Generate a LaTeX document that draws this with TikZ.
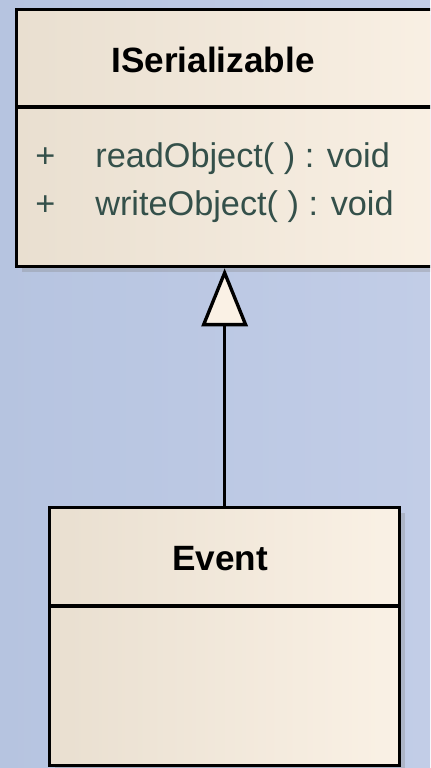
\documentclass[tikz,border=0pt]{standalone}
\usepackage{fontspec}
\setmainfont{Liberation Sans}
\usetikzlibrary{arrows.meta,shadows,positioning}

\definecolor{bgleft}{HTML}{B6C4E0}
\definecolor{bgright}{HTML}{C2CDE7}
\definecolor{boxleft}{HTML}{E9DFD0}
\definecolor{boxright}{HTML}{FAF1E5}
\definecolor{membertext}{HTML}{34504A}

\tikzset{
	classbox/.style={draw=black, line width=1.9pt, left color=boxleft, right color=boxright, inner sep=0pt,
		drop shadow={shadow xshift=3pt, shadow yshift=-3pt, opacity=0.3}},
	classname/.style={font=\fontsize{20}{24}\selectfont\bfseries},
	member/.style={font=\fontsize{19.5}{23}\selectfont, text=membertext, anchor=base west, inner sep=0pt},
	inherit/.style={line width=1.9pt, -{Triangle[width=0.92cm, length=1.16cm, fill=boxright]}}
}

\begin{document}
\begin{tikzpicture}[x=0.02cm, y=-0.02cm]
		\clip (0,0) rectangle (430,768);
		\shade[left color=bgleft, right color=bgright] (0,0) rectangle (430,768);
		
		% interface
		\node[classbox, minimum width=9cm, minimum height=5.14cm, anchor=north west] (iser) at (15,8) {};
		\coordinate (isep) at (15,107);
		\draw[line width=1.9pt] (isep) -- (isep -| iser.east);
		\node[classname] (isername) at (213,60) {ISerializable};
		\node[member] (plus1) at (35,167) {+};
		\node[member] (read) at (95,167) {readObject( ) : void};
		\node[member] (plus2) at (35,215) {+};
		\node[member] (write) at (95,215) {writeObject( ) : void};
		
		% class
		\node[classbox, minimum width=7cm, minimum height=5.16cm, anchor=north west] (event) at (48,506) {};
		\coordinate (esep) at (48,606);
		\draw[line width=1.9pt] (esep) -- (esep -| event.east);
		\node[classname] (eventname) at (220,559) {Event};
		
		\draw[inherit] (event.north) -- (event.north |- iser.south);
	\end{tikzpicture}
\end{document}
